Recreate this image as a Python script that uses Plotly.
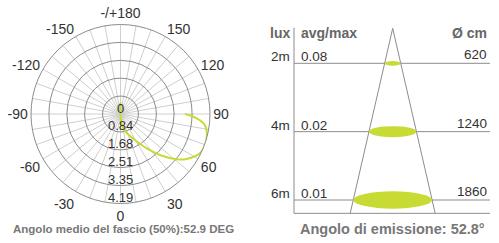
import plotly.graph_objects as go

# ---------------- data ----------------
# polar intensity curve (theta in degrees, 0 at bottom, +90 at right)
curve_theta = [180, 180, 5, 11, 20, 29, 37.4, 43.9, 51.1, 55.8, 63.7, 73.2, 82.6, 86.8, 90]
curve_r = [0.55, 0.0, 0.45, 0.68, 1.0, 1.39, 2.02, 2.66, 3.37, 3.74, 4.15, 4.2, 3.98, 3.57, 3.02]
ring_values = [0, 0.84, 1.68, 2.51, 3.35, 4.19]
ring_labels = ["0", "0.84", "1.68", "2.51", "3.35", "4.19"]
angle_ticks = list(range(0, 360, 10))
angle_label_map = {0: "0", 30: "30", 60: "60", 90: "90", 120: "120", 150: "150",
                   180: "-/+180", 210: "-150", 240: "-120", 270: "-90", 300: "-60", 330: "-30"}
beam_angle = "52.9 DEG"

# cone table
distances = ["2m", "4m", "6m"]
lux_avgmax = ["0.08", "0.02", "0.01"]
diameters = ["620", "1240", "1860"]
emission_angle = "52.8°"

GREEN = "#c8db34"
FONT = "Liberation Sans, Arial, sans-serif"
W, H = 499, 243

fig = go.Figure()

# ---------------- polar ----------------
pol_x = [31 / W, 210 / W]
pol_y = [1 - 203.5 / H, 1 - 24.5 / H]
fig.add_trace(go.Scatterpolar(
    r=curve_r, theta=curve_theta, mode="lines",
    line=dict(color=GREEN, width=2, shape="spline"), hoverinfo="skip", showlegend=False))

fig.update_layout(polar=dict(
    domain=dict(x=pol_x, y=pol_y),
    bgcolor="white",
    radialaxis=dict(range=[0, ring_values[-1]], tickvals=ring_values[1:], showticklabels=False,
                    ticks="", showline=False, gridcolor="#8c8c8c", gridwidth=1),
    angularaxis=dict(rotation=-90, direction="counterclockwise", tickvals=angle_ticks,
                     ticktext=[angle_label_map.get(a, "") for a in angle_ticks],
                     ticks="", showline=True, linecolor="#8c8c8c", linewidth=1,
                     gridcolor="#cfcfcf", gridwidth=1,
                     tickfont=dict(size=14, color="#333", family=FONT)),
))

ann = []
# radial value labels along the 0° (downward) spoke
cx = (pol_x[0] + pol_x[1]) / 2
cy = (pol_y[0] + pol_y[1]) / 2
rad = (pol_y[1] - pol_y[0]) / 2
for v, t in zip(ring_values, ring_labels):
    ann.append(dict(x=cx, y=cy - rad * v / ring_values[-1], xref="paper", yref="paper", text=t,
                    xanchor="center", yanchor="middle", yshift=6, showarrow=False,
                    font=dict(size=13, color="#333", family=FONT)))

# ---------------- cone diagram ----------------
row_k = [1, 2, 3]           # row positions on the schematic axis
apex_k = 0.488
bottom_k = 3.195
slope = 15.7                # half-width per row unit
left_x, right_x = -98.7, 97.3

hw_b = slope * (bottom_k - apex_k)
fig.add_trace(go.Scatter(x=[-hw_b, 0, hw_b], y=[bottom_k, apex_k, bottom_k], mode="lines",
                         line=dict(color="#8c8c8c", width=1), xaxis="x2", yaxis="y2",
                         hoverinfo="skip", showlegend=False))

shapes = []
line_style = dict(color="#8c8c8c", width=1)
for k in row_k + [bottom_k]:
    shapes.append(dict(type="line", xref="x2", yref="y2", x0=left_x, x1=right_x, y0=k, y1=k,
                       line=line_style, layer="below"))
shapes.append(dict(type="line", xref="x2", yref="y2", x0=left_x, x1=left_x, y0=0.48, y1=bottom_k,
                   line=line_style, layer="below"))
for k in row_k:
    hw = slope * (k - apex_k)
    h = (0.2 * 2 * hw + 1.5) / 68.35 / 2
    shapes.append(dict(type="circle", xref="x2", yref="y2", x0=-hw, x1=hw, y0=k - h, y1=k + h,
                       fillcolor=GREEN, line=dict(width=0), layer="above"))

hdr = dict(size=14, color="#666", family=FONT)
ann.append(dict(x=left_x - 2, y=0.557, xref="x2", yref="y2", text="<b>lux</b>", xanchor="right",
                yanchor="middle", showarrow=False, font=hdr))
ann.append(dict(x=left_x + 5, y=0.557, xref="x2", yref="y2", text="<b>avg/max</b>", xanchor="left",
                yanchor="middle", showarrow=False, font=hdr))
ann.append(dict(x=right_x - 1, y=0.557, xref="x2", yref="y2", text="<b>Ø cm</b>", xanchor="right",
                yanchor="middle", showarrow=False, font=hdr))
rowf = dict(size=13.5, color="#333", family=FONT)
for k, d, l, dm in zip(row_k, distances, lux_avgmax, diameters):
    ann.append(dict(x=left_x - 2, y=k, xref="x2", yref="y2", text=d, xanchor="right",
                    yanchor="bottom", yshift=-3, showarrow=False, font=rowf))
    ann.append(dict(x=left_x + 5, y=k, xref="x2", yref="y2", text=l, xanchor="left",
                    yanchor="bottom", yshift=-3, showarrow=False, font=rowf))
    ann.append(dict(x=right_x - 1, y=k, xref="x2", yref="y2", text=dm, xanchor="right",
                    yanchor="bottom", yshift=-1, showarrow=False, font=rowf))

ann.append(dict(x=0, y=bottom_k, xref="x2", yref="y2", text="<b>Angolo di emissione: " + emission_angle + "</b>",
                xanchor="center", yanchor="top", yshift=-6, showarrow=False,
                font=dict(size=14.5, color="#777", family=FONT)))
ann.append(dict(x=123 / W, y=1 - 229 / H, xref="paper", yref="paper",
                text="<b>Angolo medio del fascio (50%):" + beam_angle + "</b>",
                xanchor="center", yanchor="middle", showarrow=False,
                font=dict(size=11.5, color="#777", family=FONT)))

fig.update_layout(
    width=W, height=H, margin=dict(l=0, r=0, t=0, b=0),
    paper_bgcolor="white", plot_bgcolor="white",
    xaxis2=dict(domain=[250 / W, 1], range=[-142.7, 106.3], visible=False, anchor="y2"),
    yaxis2=dict(domain=[0, 1], range=[3.629, 0.0739], visible=False, anchor="x2"),
    shapes=shapes, annotations=ann, showlegend=False,
)

fig.write_html("out.html")
